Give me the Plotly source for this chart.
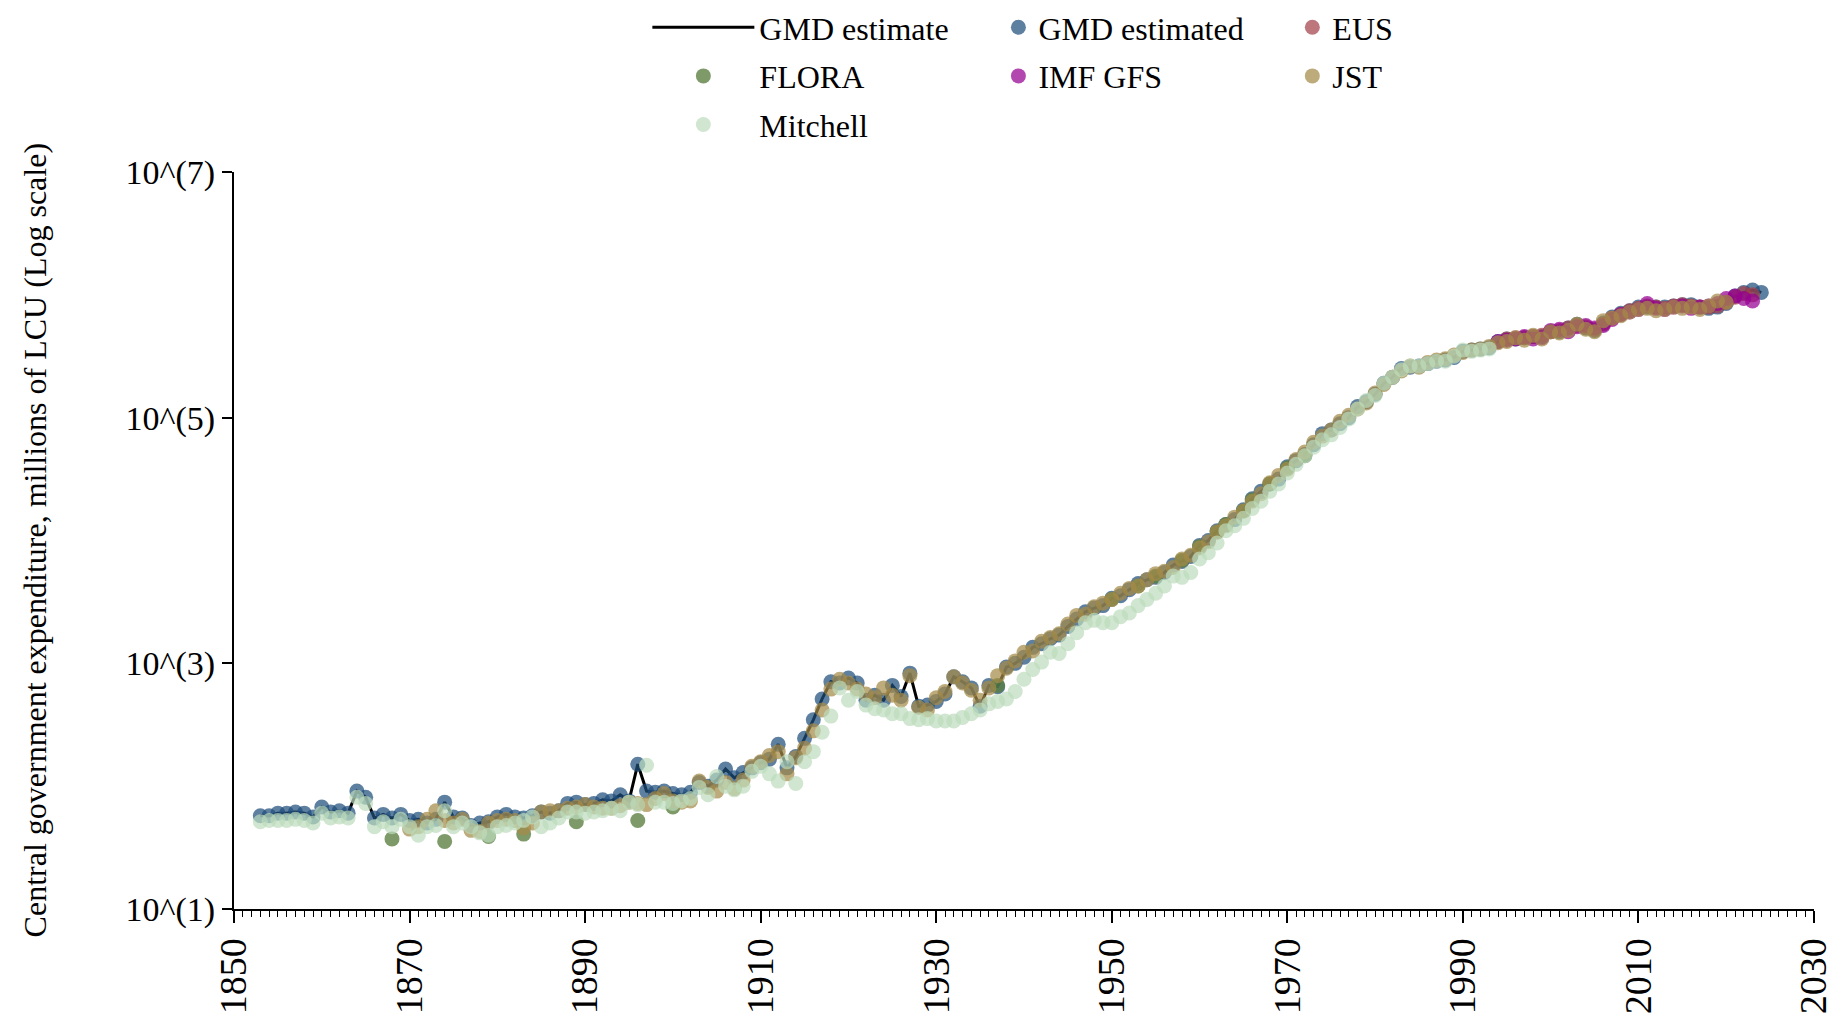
import plotly.graph_objects as go

# Central government expenditure, millions of LCU, by source
gmd_years = list(range(1853, 2025))
gmd_values = [
    57.5, 57.5, 60.3, 60.3, 61.7, 60.3, 56.2,
    67.6, 61.7, 63.1, 60.3, 91.2, 81.3, 55.0, 58.9, 55.0, 58.9,
    52.5, 53.7, 50.1, 53.7, 74.1, 56.2, 55.0, 47.9, 50.1, 51.3,
    56.2, 58.9, 56.2, 55.0, 57.5, 61.7, 60.3, 63.1, 72.4, 74.1,
    70.8, 72.4, 77.6, 75.9, 85.1, 75.9, 151, 91.2, 89.1, 91.2,
    87.1, 85.1, 89.1, 107, 100, 112, 138, 117, 129, 141,
    155, 166, 219, 141, 174, 245, 347, 513, 708, 692,
    759, 692, 501, 550, 501, 661, 537, 832, 447, 457,
    490, 562, 776, 708, 631, 447, 661, 646, 933, 1000,
    1122, 1349, 1445, 1585, 1698, 1995, 2291, 2630, 2818, 2951,
    3388, 3548, 3981, 4467, 4786, 5012, 5495, 6310, 6761, 7413,
    9120, 10000, 12020, 13490, 14790, 17780, 21880, 25120, 28840, 31620,
    39810, 44670, 50120, 60260, 74130, 79430, 89130, 100000, 123000, 134900,
    154900, 190500, 213800, 251200, 257000, 263000, 275400, 288400, 295100, 309000,
    346700, 354800, 363100, 371500, 416900, 436500, 436500, 446700, 457100, 457100,
    501200, 501200, 537000, 575400, 537000, 512900, 588800, 660700, 707900, 741300,
    794300, 794300, 794300, 794300, 812800, 831800, 831800, 794300, 776200, 794300,
    851100, 977200, 1047000, 1096000, 1047000,
]

jst_years = list(range(1870, 2021))
jst_values = [
    44.7, 46.8, 53.7, 63.1, 52.5, 50.1, 53.7, 43.7, 42.7, 50.1,
    52.5, 53.7, 52.5, 45.7, 50.1, 61.7, 63.1, 63.1, 66.1, 67.6,
    70.8, 67.6, 66.1, 66.1, 69.2, 74.1, 72.4, 70.8, 79.4, 87.1,
    75.9, 74.1, 75.9, 110, 97.7, 91.2, 107, 95.5, 112, 145,
    158, 178, 191, 126, 170, 204, 282, 417, 617, 741,
    692, 617, 562, 525, 631, 550, 501, 794, 437, 417,
    525, 589, 776, 692, 603, 501, 631, 794, 912, 1047,
    1230, 1259, 1514, 1622, 1738, 2089, 2455, 2512, 2884, 3090,
    3311, 3715, 4074, 4266, 4786, 5370, 5623, 6026, 7079, 7586,
    8710, 9772, 11750, 13180, 15490, 17380, 20890, 23990, 29510, 33880,
    38020, 45710, 52480, 63100, 70790, 79430, 93330, 104700, 117500, 131800,
    158500, 186200, 213800, 239900, 263000, 257000, 281800, 295100, 302000, 323600,
    338800, 354800, 363100, 380200, 407400, 416900, 446700, 426600, 467700, 436500,
    501200, 489800, 512900, 575400, 524800, 501200, 616600, 645700, 676100, 724400,
    758600, 776200, 741300, 758600, 794300, 776200, 794300, 758600, 812800, 891300,
    871000,
]

mitchell_years = list(range(1853, 1994))
mitchell_values = [
    51.3, 52.5, 52.5, 52.5, 53.7, 52.5, 50.1,
    60.3, 55.0, 56.2, 55.0, 81.3, 72.4, 46.8, 51.3, 46.8, 53.7,
    46.8, 39.8, 46.8, 47.9, 63.1, 46.8, 50.1, 46.8, 41.7, 39.8,
    46.8, 47.9, 50.1, 52.5, 56.2, 46.8, 50.1, 55.0, 61.7, 61.7,
    60.3, 61.7, 63.1, 66.1, 63.1, 74.1, 70.8, 148, 74.1, 74.1,
    72.4, 75.9, 79.4, 97.7, 85.1, 120, 100, 93.3, 100, 132,
    145, 126, 110, 158, 105, 158, 191, 275, 372, 631,
    501, 589, 457, 427, 417, 389, 389, 355, 347, 355,
    339, 339, 339, 363, 389, 417, 468, 490, 513, 589,
    741, 891, 1023, 1230, 1202, 1445, 1778, 2138, 2239, 2138,
    2138, 2399, 2570, 2951, 3311, 3715, 4266, 5129, 5012, 5495,
    7079, 7943, 9550, 12020, 13180, 15140, 18200, 20890, 25120, 28840,
    35480, 41690, 48980, 57540, 66070, 72440, 83180, 97720, 117500, 138000,
    151400, 190500, 213800, 245500, 263000, 263000, 275400, 288400, 288400, 316200,
    354800, 346700, 354800, 363100,
]

imf_years = list(range(1994, 2024))
imf_values = [
    416900, 426600, 436500, 457100, 436500, 446700,
    512900, 524800, 501200, 549500, 562300, 537000, 562300, 631000, 691800, 724400,
    758600, 851100, 776200, 758600, 794300, 812800, 776200, 794300, 812800, 851100,
    933300, 977200, 933300, 891300,
]

eus_years = list(range(1995, 2024))
eus_values = [
    436500, 446700, 446700, 457100, 467700,
    501200, 512900, 537000, 562300, 549500, 524800, 575400, 645700, 691800, 741300,
    776200, 812800, 794300, 776200, 812800, 831800, 812800, 794300, 794300, 812800,
    871000, 955000, 1023000, 1000000,
]

flora_years = [1868, 1874, 1879, 1883, 1889, 1896, 1900, 1937, 1950, 1953,
               1955, 1958, 1960, 1962, 1963, 1965, 1966, 1968, 1970, 1972]
flora_values = [37.2, 35.5, 38.9, 40.7, 51.3, 52.5, 67.6, 661, 3311, 4266,
                5129, 6918, 8913, 11750, 13490, 17380, 21380, 28840, 38900, 48980]

y_tick_values = [10, 1000, 100000, 10000000]
y_tick_labels = ["10^(1)", "10^(3)", "10^(5)", "10^(7)"]

FONT = "Liberation Serif"
MSIZE = 15

fig = go.Figure()

fig.add_trace(go.Scatter(
    x=gmd_years, y=gmd_values, mode="lines", name="GMD estimate",
    line=dict(color="black", width=3), legend="legend", legendgroup="a",
))
fig.add_trace(go.Scatter(
    x=gmd_years, y=gmd_values, mode="markers", name="GMD estimated",
    marker=dict(color="rgba(31,78,124,0.72)", size=MSIZE),
    legend="legend2", legendgroup="b",
))
fig.add_trace(go.Scatter(
    x=eus_years, y=eus_values, mode="markers", name="EUS",
    marker=dict(color="rgba(165,65,75,0.72)", size=MSIZE),
    legend="legend3", legendgroup="c",
))
fig.add_trace(go.Scatter(
    x=flora_years, y=flora_values, mode="markers", name="FLORA",
    marker=dict(color="rgba(90,125,62,0.78)", size=MSIZE),
    legend="legend", legendgroup="d",
))
fig.add_trace(go.Scatter(
    x=imf_years, y=imf_values, mode="markers", name="IMF GFS",
    marker=dict(color="rgba(150,0,145,0.72)", size=MSIZE),
    legend="legend2", legendgroup="e",
))
fig.add_trace(go.Scatter(
    x=jst_years, y=jst_values, mode="markers", name="JST",
    marker=dict(color="rgba(165,138,72,0.72)", size=MSIZE),
    legend="legend3", legendgroup="f",
))
fig.add_trace(go.Scatter(
    x=mitchell_years, y=mitchell_values, mode="markers", name="Mitchell",
    marker=dict(color="rgba(188,220,188,0.7)", size=MSIZE),
    legend="legend", legendgroup="g",
))

legend_common = dict(
    orientation="v", xref="container", yref="container", yanchor="top",
    xanchor="left", y=1.0, bgcolor="rgba(0,0,0,0)",
    font=dict(family=FONT, size=32, color="black"), tracegroupgap=4,
)

fig.update_layout(
    width=1837, height=1013,
    margin=dict(l=234, r=23, t=172, b=104, autoexpand=False),
    paper_bgcolor="white", plot_bgcolor="white",
    font=dict(family=FONT, size=32, color="black"),
    showlegend=True,
    legend=dict(x=0.3524, itemwidth=102, **legend_common),
    legend2=dict(x=0.5435, itemwidth=30, **legend_common),
    legend3=dict(x=0.7035, itemwidth=30, **legend_common),
    xaxis=dict(
        range=[1850, 2030], tick0=1850, dtick=20, tickangle=-90,
        showgrid=False, zeroline=False, automargin=False,
        showline=True, linecolor="black", linewidth=2,
        ticks="outside", ticklen=12, tickwidth=2, tickcolor="black",
        tickfont=dict(family=FONT, size=38, color="black"),
        minor=dict(dtick=1, tick0=1850, ticks="outside", ticklen=6,
                   tickwidth=1, tickcolor="black", showgrid=False),
    ),
    yaxis=dict(
        type="log", range=[1, 7], automargin=False,
        tickvals=y_tick_values, ticktext=y_tick_labels,
        showgrid=False, zeroline=False,
        showline=True, linecolor="black", linewidth=2,
        ticks="outside", ticklen=10, tickwidth=2, tickcolor="black",
        tickfont=dict(family=FONT, size=34, color="black"),
    ),
    annotations=[dict(
        text="Central government expenditure, millions of LCU (Log scale)",
        xref="paper", yref="paper", x=-0.126, y=0.5,
        xanchor="center", yanchor="middle", textangle=-90, showarrow=False,
        font=dict(family=FONT, size=32, color="black"),
    )],
)

fig.write_html("out.html")
